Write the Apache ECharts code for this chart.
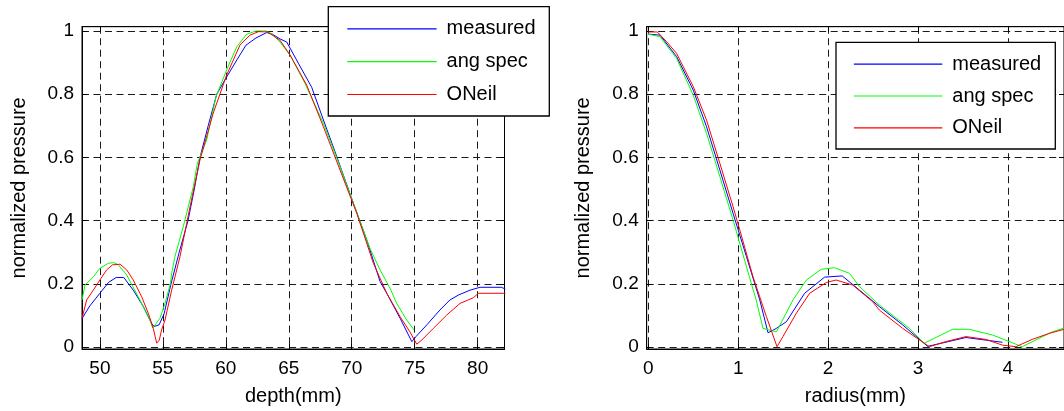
<!DOCTYPE html>
<html>
<head>
<meta charset="utf-8">
<script src="https://cdn.jsdelivr.net/npm/echarts@6/dist/echarts.min.js"></script>
<style>
html,body{margin:0;padding:0;background:#fff;}
#chart{width:1064px;height:411px;}
</style>
</head>
<body>
<div id="chart"></div>
<script>
// ---------- data ----------
const seriesNames = ['measured', 'ang spec', 'ONeil'];
const seriesColors = ['#0000ff', '#00ff00', '#ff0000'];

// Left panel: axial profile (depth in mm)
const depthMeasured = [48.58,49.2,50.0,50.7,51.3,51.9,52.65,53.45,54.1,54.3,54.7,55.1,55.65,56.3,57.0,57.5,57.95,58.6,59.28,60.0,60.9,61.6,62.4,63.25,63.7,64.3,64.84,65.76,66.82,67.61,68.67,70.13,71.19,72.25,72.78,73.84,74.77,75.1,75.96,77.0,77.8,78.5,79.4,80.19,81.9,82.2];
const pressMeasured = [0.09,0.13,0.17,0.205,0.22,0.22,0.18,0.128,0.075,0.065,0.07,0.105,0.2,0.3,0.4,0.5,0.6,0.7,0.8,0.85,0.91,0.955,0.978,0.995,0.99,0.975,0.965,0.898,0.822,0.734,0.618,0.455,0.339,0.207,0.17,0.091,0.017,0.033,0.07,0.117,0.149,0.165,0.18,0.189,0.189,0.183];

const depthAngSpec = [48.58,48.82,49.48,50.0,50.67,51.1,51.46,52.13,52.5,53.18,53.98,54.2,54.77,55.17,55.6,55.7,55.96,56.62,57.42,57.74,58.48,59.22,60.07,60.87,61.66,62.4,63.2,63.7,64.3,65.1,66.29,67.75,69.07,70.13,71.45,72.25,73.04,73.57,74.37,74.95];
const pressAngSpec = [0.149,0.196,0.222,0.249,0.265,0.267,0.26,0.228,0.2,0.149,0.085,0.06,0.091,0.138,0.2,0.233,0.286,0.381,0.507,0.581,0.655,0.792,0.877,0.95,0.99,1.0,1.0,0.99,0.965,0.924,0.834,0.708,0.571,0.455,0.312,0.244,0.186,0.138,0.085,0.054];

const depthONeil = [48.58,48.95,49.48,50.0,50.54,51.0,51.6,52.13,52.65,53.32,53.84,54.24,54.51,54.72,54.9,55.17,55.7,56.36,57.16,57.95,59.0,60.07,61.13,61.92,62.6,63.3,64.3,65.1,66.42,67.75,69.07,70.4,71.72,72.78,73.84,74.62,75.16,75.56,76.48,77.54,78.6,79.66,80.06,82.2];
const pressONeil = [0.091,0.149,0.18,0.212,0.244,0.26,0.262,0.244,0.212,0.159,0.107,0.059,0.012,0.022,0.054,0.085,0.18,0.286,0.444,0.592,0.74,0.861,0.956,0.987,0.998,0.997,0.971,0.924,0.829,0.697,0.56,0.423,0.265,0.17,0.096,0.048,0.009,0.022,0.059,0.101,0.138,0.156,0.17,0.17];

// Right panel: lateral profile (radius in mm)
const radiusMeasured = [0,0.13,0.315,0.5,0.648,0.796,0.943,1.092,1.24,1.332,1.425,1.536,1.739,1.961,2.157,2.35,2.57,2.83,3.108,3.534,3.94];
const lateralMeasured = [0.99,0.987,0.919,0.813,0.697,0.56,0.423,0.286,0.149,0.045,0.059,0.08,0.17,0.221,0.225,0.18,0.128,0.07,0.002,0.03,0.015];

const radiusAngSpec = [0,0.13,0.315,0.5,0.648,0.796,0.943,1.092,1.2,1.276,1.425,1.61,1.758,1.924,2.072,2.239,2.35,2.57,2.905,3.07,3.385,3.57,3.83,4.16,4.495,4.625];
const lateralAngSpec = [0.99,0.982,0.913,0.797,0.676,0.539,0.402,0.254,0.149,0.059,0.048,0.149,0.212,0.246,0.251,0.233,0.191,0.133,0.059,0.012,0.056,0.056,0.038,0.001,0.048,0.06];

const radiusONeil = [0,0.1,0.204,0.315,0.5,0.648,0.796,0.943,1.018,1.165,1.314,1.432,1.498,1.647,1.795,1.98,2.09,2.275,2.497,2.57,2.83,3.127,3.31,3.534,3.755,3.94,4.09,4.27,4.46,4.625];
const lateralONeil = [0.997,0.997,0.966,0.929,0.824,0.718,0.581,0.444,0.37,0.222,0.096,0.001,0.033,0.107,0.17,0.204,0.212,0.196,0.143,0.117,0.059,0.001,0.017,0.033,0.024,0.006,0.001,0.024,0.043,0.056];

const xLabelLeft = 'depth(mm)';
const xLabelRight = 'radius(mm)';
const yLabel = 'normalized pressure';

// ---------- chart ----------
const FONT = '"Liberation Sans", Arial, Helvetica, sans-serif';
const FS = 19;      // tick labels
const FS_NAME = 20; // axis names and legend
const zip = (xs, ys) => xs.map((x, i) => [x, ys[i]]);

const gridDefs = [
  {left: 82, top: 26.7, width: 422.5, height: 322.3},
  {left: 646.7, top: 26.7, width: 418.3, height: 322.3}
];
const xRanges = [[48.58, 82.13], [-0.018, 4.625]];
const yRange = [-0.0063, 1.0136];

const splitLine = {show: true, lineStyle: {color: '#1a1a1a', width: 1, type: [7, 4.5]}};
const tickIn = {show: true, inside: true, length: 5, lineStyle: {color: '#000', width: 1}};

const xAxes = [], yAxes = [];
[xLabelLeft, xLabelRight].forEach((nm, g) => {
  xAxes.push({
    type: 'value', gridIndex: g, position: 'bottom',
    min: xRanges[g][0], max: xRanges[g][1], splitNumber: 5,
    name: nm, nameLocation: 'middle', nameGap: 37,
    nameTextStyle: {fontSize: FS_NAME, color: '#000', fontFamily: FONT},
    axisLine: {show: true, onZero: false, lineStyle: {color: '#000', width: 1}},
    axisTick: tickIn,
    axisLabel: {fontSize: FS, color: '#000', fontFamily: FONT, margin: 10, showMinLabel: false, showMaxLabel: false},
    splitLine: splitLine
  });
  xAxes.push({
    type: 'value', gridIndex: g, position: 'top',
    min: xRanges[g][0], max: xRanges[g][1], splitNumber: 5,
    axisLine: {show: true, onZero: false, lineStyle: {color: '#000', width: 1}},
    axisTick: tickIn, axisLabel: {show: false}, splitLine: {show: false}
  });
  yAxes.push({
    type: 'value', gridIndex: g, position: 'left',
    min: yRange[0], max: yRange[1], splitNumber: 5,
    name: yLabel, nameLocation: 'middle', nameGap: 53,
    nameTextStyle: {fontSize: FS_NAME, color: '#000', fontFamily: FONT},
    axisLine: {show: true, onZero: false, lineStyle: {color: '#000', width: 1}},
    axisTick: tickIn,
    axisLabel: {fontSize: FS, color: '#000', fontFamily: FONT, margin: 8, showMinLabel: false, showMaxLabel: false},
    splitLine: splitLine
  });
  yAxes.push({
    type: 'value', gridIndex: g, position: 'right',
    min: yRange[0], max: yRange[1], splitNumber: 5,
    axisLine: {show: true, onZero: false, lineStyle: {color: '#000', width: 1}},
    axisTick: tickIn, axisLabel: {show: false}, splitLine: {show: false}
  });
});

const leftData = [zip(depthMeasured, pressMeasured), zip(depthAngSpec, pressAngSpec), zip(depthONeil, pressONeil)];
const rightData = [zip(radiusMeasured, lateralMeasured), zip(radiusAngSpec, lateralAngSpec), zip(radiusONeil, lateralONeil)];

const series = [];
[leftData, rightData].forEach((set, g) => {
  set.forEach((d, i) => {
    series.push({
      type: 'line', name: seriesNames[i], xAxisIndex: g * 2, yAxisIndex: g * 2,
      data: d, showSymbol: false, symbol: 'none', smooth: false, clip: true,
      lineStyle: {color: seriesColors[i], width: 1}, itemStyle: {color: seriesColors[i]},
      animation: false, z: 2
    });
  });
});

const legendItems = seriesNames.map((n, i) => ({
  name: n,
  itemStyle: {opacity: 0},
  lineStyle: {color: seriesColors[i], width: 1.2, opacity: 1}
}));

const legendBase = {
  data: legendItems, orient: 'vertical', padding: 0, itemHeight: 19,
  selectedMode: false, z: 10,
  textStyle: {fontSize: FS_NAME, color: '#000', fontFamily: FONT, padding: [0, 0, 0, 5]}
};

const option = {
  backgroundColor: '#fff',
  animation: false,
  grid: gridDefs.map(g => Object.assign({show: true, borderColor: '#000', borderWidth: 1, backgroundColor: 'transparent', containLabel: false}, g)),
  xAxis: xAxes,
  yAxis: yAxes,
  series: series,
  legend: [
    Object.assign({}, legendBase, {left: 346.7, top: 18.9, itemWidth: 89.3, itemGap: 12.8}),
    Object.assign({}, legendBase, {left: 853.3, top: 54.1, itemWidth: 88.4, itemGap: 11.9})
  ],
  graphic: [
    {type: 'rect', z: 8, shape: {x: 328.3, y: 6.7, width: 221, height: 109.3},
     style: {fill: '#fff', stroke: '#000', lineWidth: 1.3}},
    {type: 'rect', z: 8, shape: {x: 836, y: 42.3, width: 219.3, height: 106.7},
     style: {fill: '#fff', stroke: '#000', lineWidth: 1.3}}
  ]
};

const chart = echarts.init(document.getElementById('chart'), null, {renderer: 'canvas', width: 1064, height: 411});
chart.setOption(option);
</script>
</body>
</html>
